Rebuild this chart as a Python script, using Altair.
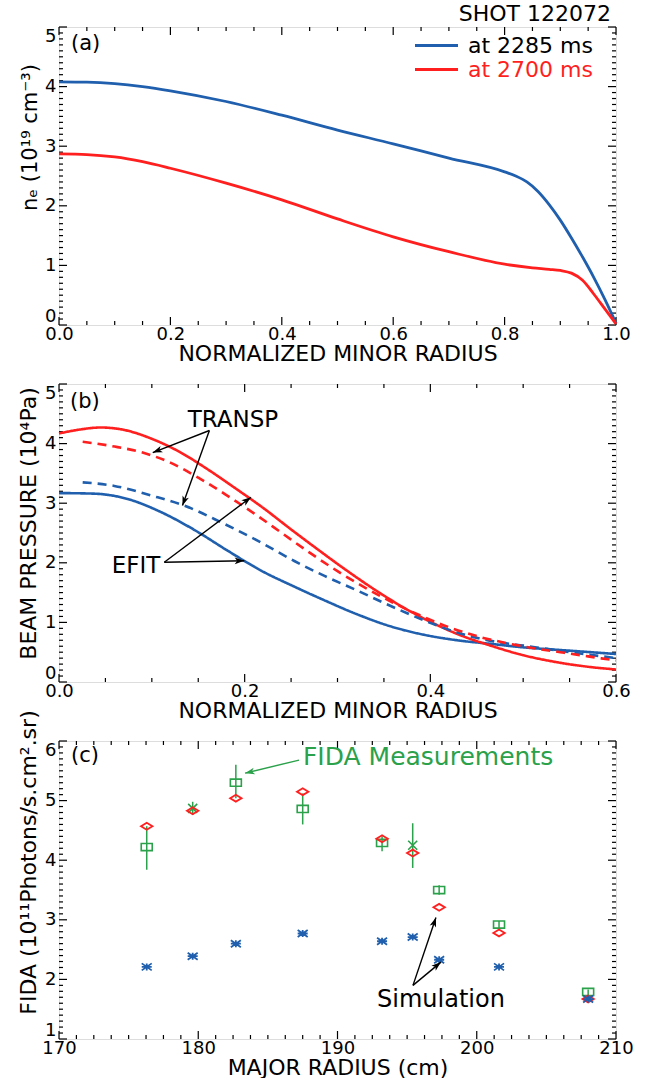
import math
import altair as alt
import pandas as pd

FONT = "DejaVu Sans"
BLUE = "#1f5fad"
RED = "#ff1f1f"
GREEN = "#2aa14a"
W, H = 557, 298

# ---------------- panel (a): electron density ----------------
a_x_2285 = [0.0, 0.05, 0.1, 0.15, 0.2, 0.3, 0.4, 0.5, 0.6, 0.7, 0.8, 0.82, 0.84, 0.86, 0.88, 0.9, 0.92, 0.94, 0.96, 0.98, 1.0]
a_ne_2285 = [4.08, 4.075, 4.05, 4.00, 3.93, 3.75, 3.52, 3.27, 3.04, 2.80, 2.57, 2.50, 2.40, 2.24, 2.02, 1.76, 1.46, 1.14, 0.80, 0.43, 0.03]
a_x_2700 = [0.0, 0.05, 0.1, 0.15, 0.2, 0.3, 0.4, 0.5, 0.6, 0.7, 0.8, 0.85, 0.88, 0.9, 0.92, 0.94, 0.96, 0.98, 1.0]
a_ne_2700 = [2.87, 2.86, 2.82, 2.74, 2.63, 2.38, 2.10, 1.78, 1.48, 1.23, 1.02, 0.96, 0.935, 0.915, 0.87, 0.75, 0.52, 0.27, 0.02]
series_names = ["at 2285 ms", "at 2700 ms"]

# ---------------- panel (b): beam pressure ----------------
b_x_efit_2285 = [0.0, 0.038, 0.074, 0.11, 0.146, 0.182, 0.2176, 0.2535, 0.286, 0.322, 0.358, 0.394, 0.429, 0.465, 0.501, 0.537, 0.6]
b_p_efit_2285 = [3.17, 3.16, 3.07, 2.85, 2.55, 2.20, 1.87, 1.60, 1.37, 1.13, 0.93, 0.79, 0.70, 0.64, 0.58, 0.54, 0.47]
b_x_efit_2700 = [0.0, 0.02, 0.045, 0.07, 0.1, 0.13, 0.16, 0.19, 0.22, 0.25, 0.28, 0.31, 0.34, 0.37, 0.40, 0.43, 0.465, 0.50, 0.537, 0.573, 0.6]
b_p_efit_2700 = [4.17, 4.23, 4.27, 4.23, 4.08, 3.86, 3.57, 3.25, 2.92, 2.56, 2.21, 1.87, 1.55, 1.26, 1.01, 0.80, 0.61, 0.45, 0.33, 0.25, 0.21]
b_x_transp_2285 = [0.0255, 0.0596, 0.099, 0.135, 0.1745, 0.2176, 0.2535, 0.286, 0.322, 0.358, 0.394, 0.429, 0.465, 0.501, 0.537, 0.6]
b_p_transp_2285 = [3.35, 3.29, 3.13, 2.96, 2.68, 2.34, 2.03, 1.78, 1.53, 1.27, 1.03, 0.83, 0.69, 0.61, 0.53, 0.40]
b_x_transp_2700 = [0.0255, 0.06, 0.09, 0.12, 0.15, 0.18, 0.21, 0.24, 0.27, 0.30, 0.33, 0.36, 0.39, 0.42, 0.45, 0.48, 0.51, 0.54, 0.57, 0.6]
b_p_transp_2700 = [4.03, 3.95, 3.85, 3.68, 3.43, 3.14, 2.83, 2.50, 2.17, 1.86, 1.58, 1.33, 1.11, 0.92, 0.77, 0.66, 0.57, 0.50, 0.43, 0.36]

# ---------------- panel (c): FIDA ----------------
c_R = [176.3, 179.6, 182.7, 187.5, 193.2, 195.4, 197.3, 201.6, 208.0]
c_meas = [4.22, 4.87, 5.30, 4.86, 4.29, 4.25, 3.50, 2.92, 1.79]
c_meas_lo = [3.84, 4.76, 5.04, 4.60, 4.15, 3.87, 3.42, 2.86, 1.74]
c_meas_hi = [4.57, 4.98, 5.60, 5.12, 4.40, 4.62, 3.58, 2.98, 1.83]
c_meas_kind = ["box", "x", "box", "box", "box", "x", "box", "box", "box"]
c_sim_2700 = [4.57, 4.83, 5.04, 5.15, 4.36, 4.12, 3.21, 2.78, 1.67]
c_sim_2285 = [2.21, 2.39, 2.60, 2.77, 2.64, 2.71, 2.33, 2.21, 1.67]

# ---------------- annotations (data coordinates) ----------------
a_panel_label = {"label": ["(a)"], "x": [0.0215], "y": [4.72]}
a_shot = {"label": ["SHOT 122072"], "x": [0.991], "y": [5.22]}
b_panel_label = {"label": ["(b)"], "x": [0.0118], "y": [4.70]}
b_texts = {"label": ["TRANSP", "EFIT"], "x": [0.1874, 0.083], "y": [4.40, 1.95]}
b_arrows = {"x0": [0.162, 0.162, 0.1134, 0.1134], "y0": [4.22, 4.22, 2.01, 2.01],
            "x1": [0.101, 0.133, 0.2068, 0.1996], "y1": [3.85, 2.96, 3.10, 2.035]}
c_panel_label = {"label": ["(c)"], "x": [170.86], "y": [5.75]}
c_texts = {"label": ["Simulation"], "x": [197.43], "y": [1.65]}
c_green_text = {"label": ["FIDA Measurements"], "x": [187.52], "y": [5.73]}
c_arrows = {"x0": [195.42, 195.42], "y0": [1.90, 1.90], "x1": [197.07, 197.43], "y1": [3.04, 2.29]}
c_green_arrows = {"x0": [187.24], "y0": [5.68], "x1": [183.36], "y1": [5.46]}

HEAD = "M0,0L-0.8,2.3L0,1.7L0.8,2.3Z"


def frange(start, stop, step):
    out, v = [], start
    while v <= stop + 1e-9:
        out.append(round(v, 4))
        v += step
    return out


def minor(start, stop, step, major_step):
    return [v for v in frange(start, stop, step)
            if abs((v - start) / major_step - round((v - start) / major_step)) > 1e-6]


def axis_layer(xs, ys, xdom, ydom, xmaj, ymaj, xtitle, ytitle, xfmt, yfmt, ytsize, ytitle_y):
    df = pd.DataFrame({"ax": [xdom[0]], "ay": [ydom[0]]})
    lab = dict(grid=False, domain=False, ticks=False, labelFont=FONT, labelFontSize=18, labelColor="black",
               labelOverlap=False, titleFont=FONT, titleFontWeight="normal", titleColor="black")
    return alt.Chart(df).mark_point(opacity=0).encode(
        x=alt.X("ax:Q", scale=xs, axis=alt.Axis(orient="bottom", values=xmaj, format=xfmt, labelPadding=0,
                                                labelFlush=False, title=xtitle, titleFontSize=22, titleY=18, **lab)),
        y=alt.Y("ay:Q", scale=ys, axis=alt.Axis(orient="left", values=ymaj, format=yfmt, labelPadding=3,
                                                labelFlush=True, title=ytitle, titleFontSize=ytsize,
                                                titlePadding=4, titleY=ytitle_y, **lab)),
    )


def tick_layers(xs, ys, xmaj, xmin, ymaj, ymin):
    out = []
    for vals, L in ((xmaj, 8), (xmin, 4)):
        d = pd.DataFrame({"t": vals})
        r = alt.Chart(d).mark_rule(color="black", strokeWidth=1.2)
        out.append(r.encode(x=alt.X("t:Q", scale=xs, axis=None), y=alt.value(H), y2=alt.value(H - L)))
        out.append(r.encode(x=alt.X("t:Q", scale=xs, axis=None), y=alt.value(0), y2=alt.value(L)))
    for vals, L in ((ymaj, 8), (ymin, 4)):
        d = pd.DataFrame({"t": vals})
        r = alt.Chart(d).mark_rule(color="black", strokeWidth=1.2)
        out.append(r.encode(y=alt.Y("t:Q", scale=ys, axis=None), x=alt.value(0), x2=alt.value(L)))
        out.append(r.encode(y=alt.Y("t:Q", scale=ys, axis=None), x=alt.value(W), x2=alt.value(W - L)))
    return out


def arrows(d, xs, ys, xdom, ydom, color="black"):
    df = pd.DataFrame(d)
    sx = W / (xdom[1] - xdom[0])
    sy = H / (ydom[1] - ydom[0])
    ang = []
    for x0, y0, x1, y1 in zip(df.x0, df.y0, df.x1, df.y1):
        dx = (x1 - x0) * sx
        dy = -(y1 - y0) * sy
        ang.append(math.degrees(math.atan2(dx, -dy)) % 360)
    df["ang"] = ang
    line = alt.Chart(df).mark_rule(color=color, strokeWidth=1.4).encode(
        x=alt.X("x0:Q", scale=xs, axis=None), y=alt.Y("y0:Q", scale=ys, axis=None),
        x2="x1:Q", y2="y1:Q")
    head = alt.Chart(df).mark_point(shape=HEAD, filled=True, size=70, color=color, opacity=1).encode(
        x=alt.X("x1:Q", scale=xs, axis=None), y=alt.Y("y1:Q", scale=ys, axis=None),
        angle=alt.Angle("ang:Q", scale=None))
    return [line, head]


def text(d, xs, ys, size, align, color="black"):
    return alt.Chart(pd.DataFrame(d)).mark_text(font=FONT, fontSize=size, align=align, baseline="middle",
                                                color=color).encode(
        x=alt.X("x:Q", scale=xs, axis=None), y=alt.Y("y:Q", scale=ys, axis=None), text="label:N")


# ================= panel (a) =================
xa_dom, ya_dom = [0, 1], [0, 5]
xs_a = alt.Scale(domain=xa_dom, nice=False, zero=False)
ys_a = alt.Scale(domain=ya_dom, nice=False, zero=False)
df_a = pd.concat([
    pd.DataFrame({"r": a_x_2285, "ne": a_ne_2285, "series": series_names[0]}),
    pd.DataFrame({"r": a_x_2700, "ne": a_ne_2700, "series": series_names[1]}),
])
lines_a = alt.Chart(df_a).mark_line(strokeWidth=2.8, interpolate="monotone").encode(
    x=alt.X("r:Q", scale=xs_a, axis=None),
    y=alt.Y("ne:Q", scale=ys_a, axis=None),
    color=alt.Color("series:N", scale=alt.Scale(domain=series_names, range=[BLUE, RED]),
                    legend=alt.Legend(orient="none", legendX=365, legendY=6, title=None,
                                      symbolType="M-2,0L2,0", symbolSize=462, symbolStrokeWidth=2.8,
                                      labelFont=FONT, labelFontSize=22, labelOffset=19, padding=0,
                                      rowPadding=0,
                                      labelColor=alt.ExprRef(expr="datum.label == 'at 2700 ms' ? '#ff1f1f' : 'black'"))),
)
panel_a = alt.layer(
    axis_layer(xs_a, ys_a, xa_dom, ya_dom, frange(0, 1, 0.2), frange(0, 5, 1),
               "NORMALIZED MINOR RADIUS", "nₑ (10¹⁹ cm⁻³)", ".1f", "d", 21, 110),
    *tick_layers(xs_a, ys_a, frange(0, 1, 0.2), minor(0, 1, 0.05, 0.2), frange(0, 5, 1), minor(0, 5, 0.1, 1)),
    lines_a,
    text(a_panel_label, xs_a, ys_a, 21, "left"),
    text(a_shot, xs_a, ys_a, 22, "right"),
).resolve_axis(x="independent", y="independent").properties(width=W, height=H)

# ================= panel (b) =================
xb_dom, yb_dom = [0, 0.6], [0, 5]
xs_b = alt.Scale(domain=xb_dom, nice=False, zero=False)
ys_b = alt.Scale(domain=yb_dom, nice=False, zero=False)
df_b = pd.concat([
    pd.DataFrame({"r": b_x_efit_2285, "p": b_p_efit_2285, "curve": "efit_2285", "col": BLUE, "method": "EFIT"}),
    pd.DataFrame({"r": b_x_efit_2700, "p": b_p_efit_2700, "curve": "efit_2700", "col": RED, "method": "EFIT"}),
    pd.DataFrame({"r": b_x_transp_2285, "p": b_p_transp_2285, "curve": "transp_2285", "col": BLUE, "method": "TRANSP"}),
    pd.DataFrame({"r": b_x_transp_2700, "p": b_p_transp_2700, "curve": "transp_2700", "col": RED, "method": "TRANSP"}),
])
lines_b = alt.Chart(df_b).mark_line(strokeWidth=2.6, interpolate="monotone").encode(
    x=alt.X("r:Q", scale=xs_b, axis=None),
    y=alt.Y("p:Q", scale=ys_b, axis=None),
    color=alt.Color("col:N", scale=None),
    detail="curve:N",
    strokeDash=alt.StrokeDash("method:N", scale=alt.Scale(domain=["EFIT", "TRANSP"], range=[[1, 0], [9, 6]]), legend=None),
)
panel_b = alt.layer(
    axis_layer(xs_b, ys_b, xb_dom, yb_dom, frange(0, 0.6, 0.2), frange(0, 5, 1),
               "NORMALIZED MINOR RADIUS", "BEAM PRESSURE (10⁴Pa)", ".1f", "d", 22, 139),
    *tick_layers(xs_b, ys_b, frange(0, 0.6, 0.2), minor(0, 0.6, 0.05, 0.2), frange(0, 5, 1), minor(0, 5, 0.1, 1)),
    lines_b,
    *arrows(b_arrows, xs_b, ys_b, xb_dom, yb_dom),
    text(b_panel_label, xs_b, ys_b, 21, "left"),
    text(b_texts, xs_b, ys_b, 23, "center"),
).resolve_axis(x="independent", y="independent").properties(width=W, height=H)

# ================= panel (c) =================
xc_dom, yc_dom = [170, 210], [1, 6]
xs_c = alt.Scale(domain=xc_dom, nice=False, zero=False)
ys_c = alt.Scale(domain=yc_dom, nice=False, zero=False)
df_c = pd.DataFrame({"R": c_R, "meas": c_meas, "lo": c_meas_lo, "hi": c_meas_hi, "kind": c_meas_kind,
                     "s2700": c_sim_2700, "s2285": c_sim_2285})
enc_x = alt.X("R:Q", scale=xs_c, axis=None)
err_c = alt.Chart(df_c).mark_rule(color=GREEN, strokeWidth=1.5).encode(
    x=enc_x, y=alt.Y("lo:Q", scale=ys_c, axis=None), y2="hi:Q")
box_c = alt.Chart(df_c[df_c.kind == "box"]).mark_point(
    shape="M-1,-0.65L1,-0.65L1,0.65L-1,0.65Z", size=121, filled=False, color=GREEN, strokeWidth=1.6, opacity=1).encode(
    x=enc_x, y=alt.Y("meas:Q", scale=ys_c, axis=None))
xm_c = alt.Chart(df_c[df_c.kind == "x"]).mark_point(
    shape="M-1,-1L1,1M-1,1L1,-1", size=81, filled=False, color=GREEN, strokeWidth=1.6, opacity=1).encode(
    x=enc_x, y=alt.Y("meas:Q", scale=ys_c, axis=None))
dia_c = alt.Chart(df_c).mark_point(
    shape="M-1,0L0,-0.6L1,0L0,0.6Z", size=130, filled=False, color=RED, strokeWidth=1.8, opacity=1).encode(
    x=enc_x, y=alt.Y("s2700:Q", scale=ys_c, axis=None))
ast_c = alt.Chart(df_c).mark_point(
    shape="M-1,-0.7L1,0.7M-1,0.7L1,-0.7M-1,0L1,0M0,-0.7L0,0.7", size=100, filled=False, color=BLUE,
    strokeWidth=1.8, opacity=1).encode(
    x=enc_x, y=alt.Y("s2285:Q", scale=ys_c, axis=None))

panel_c = alt.layer(
    axis_layer(xs_c, ys_c, xc_dom, yc_dom, frange(170, 210, 10), frange(1, 6, 1),
               "MAJOR RADIUS (cm)", "FIDA (10¹¹Photons/s.cm².sr)", "d", "d", 22, 121),
    *tick_layers(xs_c, ys_c, frange(170, 210, 10), minor(170, 210, 1.25, 10), frange(1, 6, 1), minor(1, 6, 0.1, 1)),
    err_c, box_c, xm_c, dia_c, ast_c,
    *arrows(c_arrows, xs_c, ys_c, xc_dom, yc_dom),
    *arrows(c_green_arrows, xs_c, ys_c, xc_dom, yc_dom, color=GREEN),
    text(c_panel_label, xs_c, ys_c, 21, "left"),
    text(c_texts, xs_c, ys_c, 24, "center"),
    text(c_green_text, xs_c, ys_c, 25, "left", color=GREEN),
).resolve_axis(x="independent", y="independent").properties(width=W, height=H)

chart = alt.vconcat(panel_a, panel_b, panel_c, spacing=59, bounds="flush").resolve_legend(
    color="independent").resolve_scale(color="independent").properties(
    padding={"left": 17, "top": 2, "right": 4, "bottom": 2}, background="white"
).configure_view(stroke="black", strokeWidth=1.6).configure(font=FONT)

chart.save("out.html", embed_options={"renderer": "svg", "actions": False})
